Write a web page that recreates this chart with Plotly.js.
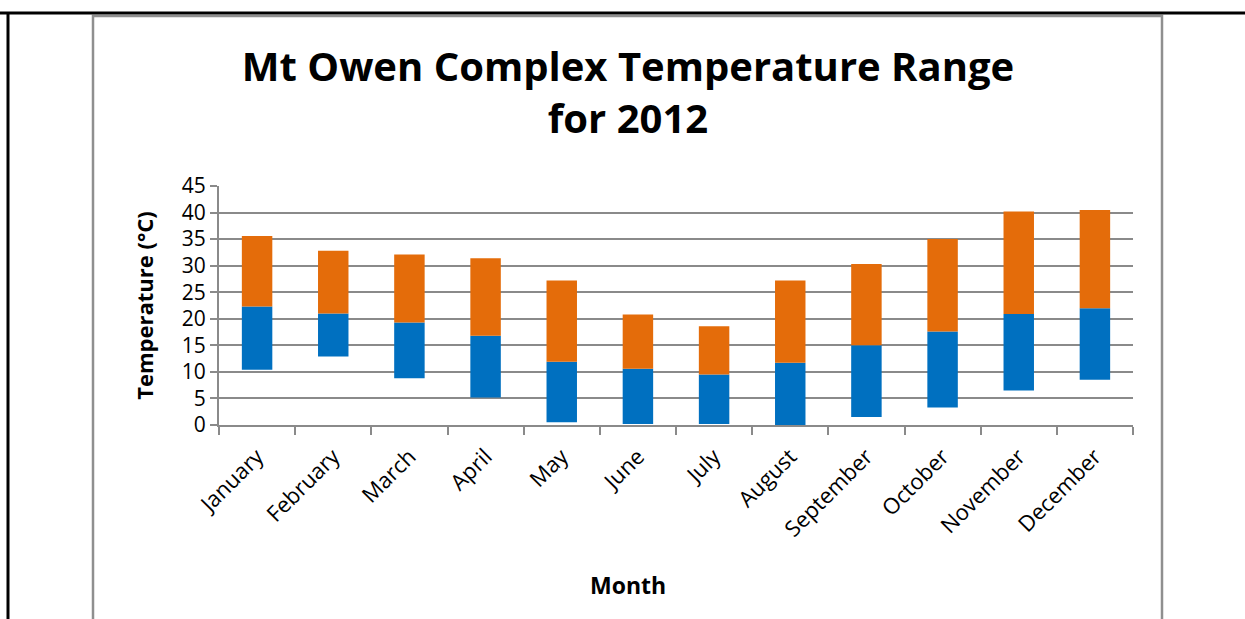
<!DOCTYPE html>
<html>
<head>
<meta charset="utf-8">
<script src="https://cdn.plot.ly/plotly-3.0.1.min.js"></script>
<style>
html,body{margin:0;padding:0;background:#fff;}
#chart{width:1245px;height:619px;}
</style>
</head>
<body>
<div id="chart"></div>
<script>
const months = ["January","February","March","April","May","June","July","August","September","October","November","December"];
const minTemp = [10.4, 12.9, 8.8, 5.2, 0.5, 0.2, 0.2, 0.0, 1.5, 3.3, 6.5, 8.5];
const midTemp = [22.3, 21.0, 19.3, 16.8, 11.9, 10.6, 9.5, 11.7, 15.0, 17.6, 20.9, 22.0];
const maxTemp = [35.6, 32.8, 32.1, 31.4, 27.2, 20.8, 18.6, 27.2, 30.3, 35.0, 40.2, 40.5];
const yTicks = [0,5,10,15,20,25,30,35,40,45];

const lowSpan = midTemp.map((m,i)=> +(m - minTemp[i]).toFixed(2));
const highSpan = maxTemp.map((m,i)=> +(m - midTemp[i]).toFixed(2));

const FONT = "Open Sans, Calibri, sans-serif";

const traces = [
  {type:'bar', x:months, y:lowSpan, base:minTemp, width:0.4, marker:{color:'#0070C0'}, name:'Low', hoverinfo:'x+y'},
  {type:'bar', x:months, y:highSpan, base:midTemp, width:0.4, marker:{color:'#E46C0A'}, name:'High', hoverinfo:'x+y'}
];

// pixel -> paper helpers for the decorative frame
const L=219, R=1133, T=186, B=425;
const px = v => (v - L)/(R - L);
const py = v => (B - v)/(B - T);

const layout = {
  width:1245, height:619,
  margin:{l:L, r:1245-R, t:T, b:619-B, pad:0},
  paper_bgcolor:'#ffffff', plot_bgcolor:'#ffffff',
  barmode:'overlay',
  showlegend:false,
  font:{family:FONT, color:'#000'},
  title:{
    text:'<b>Mt Owen Complex Temperature Range<br>for 2012</b>',
    font:{family:FONT, size:40, color:'#000'},
    x:628/1245, xanchor:'center', xref:'container',
    y:1-81/619, yanchor:'top', yref:'container'
  },
  xaxis:{
    type:'category',
    tickson:'boundaries',
    ticks:'outside', ticklen:8, tickwidth:2, tickcolor:'#8a8a8a',
    showline:true, linecolor:'#8a8a8a', linewidth:2,
    showgrid:false,
    tickangle:-45,
    ticklabelstandoff:8,
    tickfont:{family:FONT, size:22, color:'#000'},
    automargin:false
  },
  yaxis:{
    range:[0,45],
    tickvals:yTicks,
    ticks:'outside', ticklen:7, tickwidth:2, tickcolor:'#8a8a8a',
    showline:true, linecolor:'#8a8a8a', linewidth:2,
    showgrid:true, gridcolor:'#8a8a8a', gridwidth:2,
    zeroline:false,
    tickfont:{family:FONT, size:21, color:'#000'},
    title:{text:'<b>Temperature (°C)</b>', font:{family:FONT, size:22, color:'#000'}, standoff:22},
    automargin:false
  },
  annotations:[
    {text:'<b>Month</b>', xref:'paper', yref:'paper', x:px(628), y:py(585), xanchor:'center', yanchor:'middle', showarrow:false, font:{family:FONT, size:23, color:'#000'}}
  ],
  shapes:[
    {type:'line', xref:'paper', yref:'paper', x0:px(0), x1:px(1245), y0:py(13), y1:py(13), line:{color:'#000', width:3}},
    {type:'line', xref:'paper', yref:'paper', x0:px(8), x1:px(8), y0:py(13), y1:py(640), line:{color:'#000', width:3}},
    {type:'rect', xref:'paper', yref:'paper', x0:px(93), x1:px(1162), y0:py(16), y1:py(640), line:{color:'#8f8f8f', width:2.5}, fillcolor:'rgba(0,0,0,0)', layer:'below'}
  ]
};

Plotly.newPlot('chart', traces, layout, {displayModeBar:false, staticPlot:true});
</script>
</body>
</html>
